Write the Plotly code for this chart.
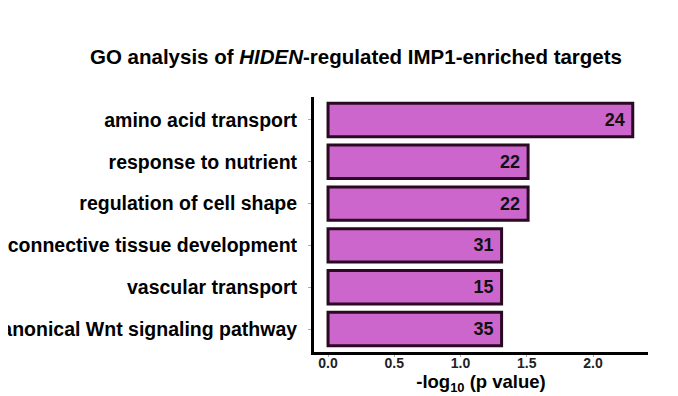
import plotly.graph_objects as go

categories = ["amino acid transport", "response to nutrient", "regulation of cell shape",
              "connective tissue development", "vascular transport",
              "canonical Wnt signaling pathway"]
neg_log_p = [2.30, 1.51, 1.51, 1.31, 1.31, 1.31]
gene_counts = [24, 22, 22, 31, 15, 35]
x_ticks = [0.0, 0.5, 1.0, 1.5, 2.0]
x_tick_labels = ["0.0", "0.5", "1.0", "1.5", "2.0"]

FONT = "Liberation Sans, Arial, sans-serif"

fig = go.Figure(go.Bar(
    y=categories, x=neg_log_p, orientation="h",
    text=[str(c) for c in gene_counts],
    textposition="inside", insidetextanchor="end",
    textfont=dict(family=FONT, size=18, color="#111111"),
    texttemplate="<b>%{text}</b>\u00a0",
    marker=dict(color="#CC66CC", line=dict(color="#2a0a22", width=3)),
    width=0.8,
    cliponaxis=False,
))

# page body has an 8px margin; the figure is sized/offset to compensate
fig.update_layout(
    width=670, height=388,
    margin=dict(l=306, r=30, t=89, b=44),
    plot_bgcolor="white", paper_bgcolor="white",
    showlegend=False,
    title=dict(text="<b>GO analysis of <i>HIDEN</i>-regulated IMP1-enriched targets</b>",
               x=348 / 670, xanchor="center", y=1 - 49 / 388, yanchor="middle",
               xref="container", yref="container",
               font=dict(family=FONT, size=20.5, color="black")),
)
fig.update_yaxes(
    categoryorder="array", categoryarray=categories[::-1],
    range=[-0.55, 5.55],
    showline=True, linecolor="black", linewidth=3,
    ticks="outside", ticklen=3, tickcolor="#aaaaaa", tickwidth=1,
    tickfont=dict(family=FONT, size=19.5, color="black"),
    showgrid=False, zeroline=False,
    ticklabelstandoff=7,
    automargin=False,
    tickvals=categories, ticktext=[f"<b>{c}</b>" for c in categories],
)
fig.update_xaxes(
    range=[-0.106, 2.415],
    tickvals=x_ticks, ticktext=[f"<b>{t}</b>" for t in x_tick_labels],
    showline=True, linecolor="black", linewidth=3,
    ticks="outside", ticklen=2, tickcolor="#aaaaaa", tickwidth=1,
    tickfont=dict(family=FONT, size=14, color="#222222"),
    showgrid=False, zeroline=False,
    automargin=False,
    ticklabelstandoff=-6,
    title=dict(text="<b>-log<sub>10</sub> (p value)</b>",
               font=dict(family=FONT, size=18.5, color="black"), standoff=0),
)

fig.write_html("out.html")
